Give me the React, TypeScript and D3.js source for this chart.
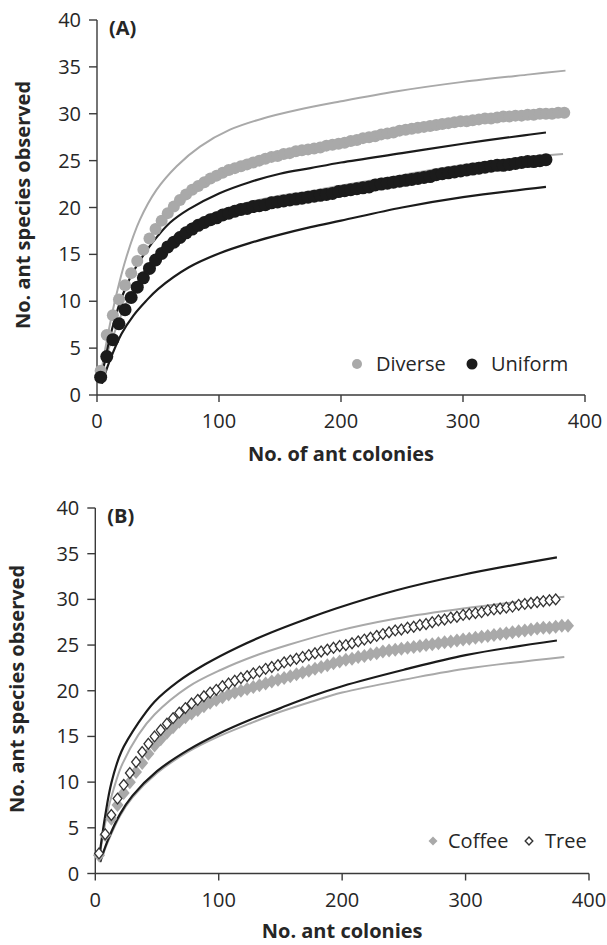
import React from 'react';
import * as d3 from 'd3';

// ---------- data ----------
const colonies = [3,8,13,18,23,28,33,38,43,48,53,58,63,68,73,78,83,88,93,98,103,108,113,118,123,128,133,138,143,148,153,158,163,168,173,178,183,188,193,198,203,208,213,218,223,228,233,238,243,248,253,258,263,268,273,278,283,288,293,298,303,308,313,318,323,328,333,338,343,348,353,358,363,368,373,378,383];

// Panel A observed curves
const diverseY = [2.6,6.4,8.5,10.2,11.7,13.0,14.3,15.5,16.7,17.7,18.6,19.4,20.1,20.8,21.4,21.9,22.3,22.7,23.1,23.4,23.7,24.0,24.2,24.4,24.6,24.8,25.0,25.2,25.4,25.5,25.7,25.8,26.0,26.1,26.2,26.3,26.4,26.6,26.7,26.8,26.9,27.1,27.2,27.4,27.5,27.6,27.8,27.9,28.0,28.2,28.3,28.4,28.5,28.6,28.7,28.8,28.9,29.0,29.1,29.2,29.2,29.3,29.4,29.5,29.5,29.6,29.7,29.7,29.8,29.8,29.9,29.9,30.0,30.0,30.0,30.1,30.1];
const uniformY = [1.9,4.1,5.9,7.6,9.1,10.4,11.5,12.5,13.5,14.4,15.1,15.8,16.3,16.8,17.3,17.7,18.1,18.4,18.7,18.9,19.2,19.4,19.6,19.8,19.9,20.1,20.2,20.3,20.5,20.6,20.7,20.8,20.9,21.0,21.1,21.2,21.3,21.4,21.5,21.7,21.8,21.9,22.0,22.1,22.2,22.4,22.5,22.6,22.7,22.8,22.9,23.0,23.1,23.2,23.3,23.5,23.6,23.7,23.8,23.9,24.0,24.1,24.2,24.3,24.4,24.5,24.5,24.6,24.7,24.8,24.9,24.9,25.0,25.1];

// Panel A confidence bounds
const diverseUpperX = [3,6.6,14.8,24.3,35.2,48.9,65.3,84.4,109,136,164,199,246,300,355,384];
const diverseUpperY = [2.0,4.8,10.1,14.8,18.7,21.9,24.4,26.5,28.3,29.5,30.4,31.3,32.4,33.4,34.2,34.6];
const diverseLowerX = [3,8,13,23,33,48,73,98,123,148,173,198,248,298,348,382];
const diverseLowerY = [1.8,4.3,6.2,9.5,12.0,14.9,17.9,19.5,20.5,21.2,21.7,22.3,23.4,24.5,25.3,25.7];
const uniformUpperX = [4,10,15,20,25,30,35,40,50,60,75,100,125,150,175,200,250,300,350,368];
const uniformUpperY = [2.0,5.8,8.3,10.3,11.9,13.2,14.3,15.3,17.0,18.4,19.8,21.5,22.7,23.6,24.2,24.8,25.8,26.8,27.7,28.0];
const uniformLowerX = [4,10,20,30,40,50,75,100,125,150,175,200,250,300,368];
const uniformLowerY = [1.2,3.5,6.5,8.5,10.0,11.3,13.6,15.1,16.2,17.1,17.9,18.6,20.0,21.1,22.2];

// Panel B observed curves
const coffeeY = [2.0,4.2,6.0,7.5,8.8,10.0,11.1,12.1,13.1,14.0,14.7,15.4,16.0,16.6,17.1,17.5,17.9,18.3,18.7,19.0,19.3,19.6,19.8,20.0,20.2,20.4,20.6,20.8,21.0,21.2,21.4,21.6,21.8,22.0,22.2,22.4,22.6,22.8,23.0,23.2,23.4,23.5,23.7,23.8,24.0,24.1,24.3,24.4,24.5,24.6,24.7,24.8,24.9,25.0,25.1,25.2,25.3,25.4,25.5,25.6,25.7,25.8,25.9,26.0,26.1,26.2,26.3,26.4,26.5,26.6,26.7,26.8,26.9,26.9,27.0,27.1,27.1];
const treeY = [2.2,4.3,6.4,8.2,9.7,11.0,12.2,13.3,14.2,15.0,15.7,16.4,17.0,17.6,18.1,18.6,19.0,19.4,19.8,20.1,20.5,20.8,21.1,21.4,21.6,21.9,22.1,22.4,22.6,22.8,23.1,23.3,23.5,23.7,23.9,24.1,24.3,24.5,24.7,24.9,25.0,25.2,25.4,25.6,25.8,26.0,26.2,26.4,26.6,26.7,26.9,27.0,27.2,27.3,27.5,27.7,27.8,28.0,28.1,28.3,28.4,28.5,28.6,28.8,28.9,29.0,29.1,29.2,29.4,29.5,29.6,29.7,29.8,29.9,30.0];

// Panel B confidence bounds
const treeUpperX = [4,8,13,21,35,48,67,89,116,143,170,195,244,298,374];
const treeUpperY = [2.6,6.3,9.9,13.3,16.5,18.8,21.0,22.9,24.8,26.4,27.8,29.0,31.0,32.7,34.6];
const treeLowerX = [4,10,20,30,50,75,100,125,150,175,200,250,300,374];
const treeLowerY = [1.3,3.6,6.5,8.5,11.2,13.5,15.3,16.8,18.1,19.4,20.5,22.3,23.9,25.5];
const coffeeUpperX = [4,10,15,21,35,48,75,102,129,156,195,244,298,380];
const coffeeUpperY = [2.4,6.8,9.3,11.7,15.2,17.4,20.4,22.3,23.8,25.0,26.5,27.9,29.0,30.3];
const coffeeLowerX = [4,10,20,30,50,75,100,125,150,175,200,250,300,380];
const coffeeLowerY = [1.2,3.4,6.3,8.3,11.0,13.3,15.0,16.4,17.7,18.8,19.8,21.2,22.4,23.7];

const xTicks = [0, 100, 200, 300, 400];
const yTicks = [0, 5, 10, 15, 20, 25, 30, 35, 40];

// ---------- styles ----------
const FONT = "'Open Sans', sans-serif";
const AXIS = '#3a3a3a';
const TEXT = '#262626';
const GREY = '#a9a9a9';
const BLACK = '#1b1b1b';

type Scale = d3.ScaleLinear<number, number>;

function linePath(x: Scale, y: Scale, xs: number[], ys: number[]) {
  const pts = xs.map((v, i) => [v, ys[i]] as [number, number]);
  return d3.line<[number, number]>().x(d => x(d[0])).y(d => y(d[1])).curve(d3.curveCatmullRom.alpha(0.5))(pts) || '';
}

function diamond(w: number, h: number) {
  return `M0,${-h}L${w},0L0,${h}L${-w},0Z`;
}

function Axes({ x, y, xTitle, titleDy, yTitleX, yTitleY, label }: { x: Scale; y: Scale; xTitle: string; titleDy: number; yTitleX: number; yTitleY: number; label: string }) {
  const x0 = x(0);
  const y0 = y(0);
  return (
    <g>
      <line x1={x0} x2={x0} y1={y(0)} y2={y(40)} stroke={AXIS} strokeWidth={1.4} />
      <line x1={x0} x2={x(400)} y1={y0} y2={y0} stroke={AXIS} strokeWidth={1.4} />
      {yTicks.map(t => (
        <g key={'y' + t}>
          <line x1={x0 - 8} x2={x0} y1={y(t)} y2={y(t)} stroke={AXIS} strokeWidth={1.4} />
          <text x={x0 - 16} y={y(t) + 7} textAnchor="end" fontSize={20} fontFamily={FONT} fill={TEXT}>{t}</text>
        </g>
      ))}
      {xTicks.map(t => (
        <g key={'x' + t}>
          <line x1={x(t)} x2={x(t)} y1={y0} y2={y0 + 7} stroke={AXIS} strokeWidth={1.4} />
          <text x={x(t)} y={y0 + 33} textAnchor="middle" fontSize={20} fontFamily={FONT} fill={TEXT}>{t}</text>
        </g>
      ))}
      <text x={(x(0) + x(400)) / 2} y={y0 + titleDy} textAnchor="middle" fontSize={20} fontWeight="bold" fontFamily={FONT} fill={TEXT}>{xTitle}</text>
      <text transform={`translate(${yTitleX},${yTitleY}) rotate(-90)`} textAnchor="middle" fontSize={20} fontWeight="bold" fontFamily={FONT} fill={TEXT}>No. ant species observed</text>
      <text x={x0 + 12} y={y(40) + 15} fontSize={20} fontWeight="bold" fontFamily={FONT} fill={TEXT}>{label}</text>
    </g>
  );
}

export default function App() {
  const xA = d3.scaleLinear().domain([0, 400]).range([97, 585]);
  const yA = d3.scaleLinear().domain([0, 40]).range([395, 20]);
  const xB = d3.scaleLinear().domain([0, 400]).range([95.3, 589]);
  const yB = d3.scaleLinear().domain([0, 40]).range([873.5, 508]);

  return (
    <svg width={607} height={945} style={{ position: 'absolute', left: 0, top: 0, background: '#fff' }}>
      <rect width={607} height={945} fill="#fff" />
      {/* Panel A */}
      <Axes x={xA} y={yA} xTitle="No. of ant colonies" titleDy={66} yTitleX={30} yTitleY={205} label="(A)" />
      <path d={linePath(xA, yA, diverseUpperX, diverseUpperY)} fill="none" stroke={GREY} strokeWidth={2} />
      <path d={linePath(xA, yA, diverseLowerX, diverseLowerY)} fill="none" stroke={GREY} strokeWidth={2} />
      <path d={linePath(xA, yA, uniformUpperX, uniformUpperY)} fill="none" stroke={BLACK} strokeWidth={2.2} />
      <path d={linePath(xA, yA, uniformLowerX, uniformLowerY)} fill="none" stroke={BLACK} strokeWidth={2.2} />
      {diverseY.map((v, i) => (
        <circle key={'d' + i} cx={xA(colonies[i])} cy={yA(v)} r={6} fill={GREY} />
      ))}
      {uniformY.map((v, i) => (
        <circle key={'u' + i} cx={xA(colonies[i])} cy={yA(v)} r={6.5} fill={BLACK} />
      ))}
      <circle cx={357} cy={364} r={5} fill={GREY} />
      <text x={376} y={371} fontSize={20} fontFamily={FONT} fill={TEXT}>Diverse</text>
      <circle cx={472} cy={364} r={5.5} fill={BLACK} />
      <text x={491} y={371} fontSize={20} fontFamily={FONT} fill={TEXT}>Uniform</text>

      {/* Panel B */}
      <Axes x={xB} y={yB} xTitle="No. ant colonies" titleDy={64.5} yTitleX={24} yTitleY={689} label="(B)" />
      <path d={linePath(xB, yB, coffeeUpperX, coffeeUpperY)} fill="none" stroke={GREY} strokeWidth={2} />
      <path d={linePath(xB, yB, coffeeLowerX, coffeeLowerY)} fill="none" stroke={GREY} strokeWidth={2} />
      <path d={linePath(xB, yB, treeUpperX, treeUpperY)} fill="none" stroke={BLACK} strokeWidth={2.2} />
      <path d={linePath(xB, yB, treeLowerX, treeLowerY)} fill="none" stroke={BLACK} strokeWidth={2.2} />
      {coffeeY.map((v, i) => (
        <path key={'c' + i} d={diamond(6, 7)} transform={`translate(${xB(colonies[i])},${yB(v)})`} fill={GREY} />
      ))}
      {treeY.map((v, i) => (
        <path key={'t' + i} d={diamond(4.4, 5.4)} transform={`translate(${xB(colonies[i])},${yB(v)})`} fill="#fff" stroke="#333" strokeWidth={1.3} />
      ))}
      <path d={diamond(4.5, 4.5)} transform="translate(433,841)" fill={GREY} />
      <text x={448} y={848} fontSize={20} fontFamily={FONT} fill={TEXT}>Coffee</text>
      <path d={diamond(3.8, 4)} transform="translate(529,841)" fill="#fff" stroke="#333" strokeWidth={1.4} />
      <text x={545} y={848} fontSize={20} fontFamily={FONT} fill={TEXT}>Tree</text>
    </svg>
  );
}
